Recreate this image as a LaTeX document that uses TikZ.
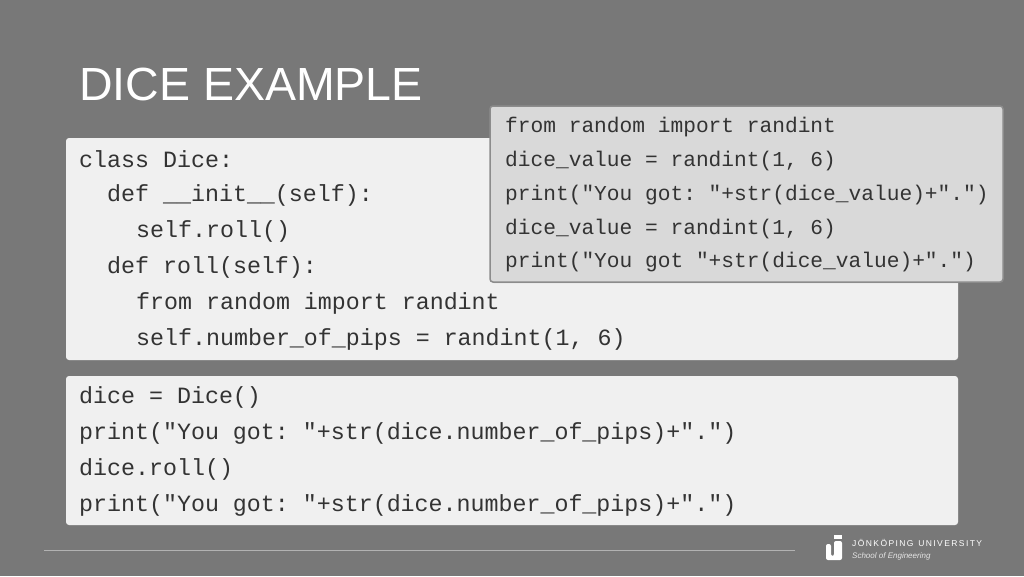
\documentclass[tikz,border=0pt]{standalone}
\usepackage{fontspec}
\setmainfont{Liberation Sans}
\setmonofont{Liberation Mono}
\usetikzlibrary{shadows}
\begin{document}
\begin{tikzpicture}[x=1pt,y=-1pt,
  codebox/.style={fill=black!6,rounded corners=3pt,drop shadow={shadow xshift=1pt,shadow yshift=-1pt,opacity=0.4}},
  code/.style={anchor=west,inner sep=0pt,font=\ttfamily\fontsize{23.3}{23.3}\selectfont,text=black!80},
  codes/.style={anchor=west,inner sep=0pt,font=\ttfamily\fontsize{21.2}{21.2}\selectfont,text=black!80}]
\fill[black!53] (0,0) rectangle (1024,576);
\useasboundingbox (0,0) rectangle (1024,576);
\node[anchor=base west,inner sep=0pt,text=white,font=\fontsize{46.5}{46.5}\selectfont] (title) at (79,100) {DICE EXAMPLE};
\path[codebox] (66,138) rectangle (958,360);
\path[codebox] (66,376) rectangle (958,525);
\path[fill=black!15,draw=black!45,line width=1.5pt,rounded corners=3pt,drop shadow={shadow xshift=1pt,shadow yshift=-1pt,opacity=0.4}] (490,106) rectangle (1003,282);
\node[code] (l1) at (79,159) {class Dice:};
\node[code] (l2) at (107,195) {def \_\_init\_\_(self):};
\node[code] (l3) at (136,231) {self.roll()};
\node[code] (l4) at (107,267) {def roll(self):};
\node[code] (l5) at (136,303) {from random import randint};
\node[code] (l6) at (136,339) {self.number\_of\_pips = randint(1, 6)};
\node[code] (b1) at (79,397) {dice = Dice()};
\node[code] (b2) at (79,433) {print("You got: "+str(dice.number\_of\_pips)+".")};
\node[code] (b3) at (79,469) {dice.roll()};
\node[code] (b4) at (79,505) {print("You got: "+str(dice.number\_of\_pips)+".")};
\node[codes] (s1) at (505,127) {from random import randint};
\node[codes] (s2) at (505,161) {dice\_value = randint(1, 6)};
\node[codes] (s3) at (505,195) {print("You got: "+str(dice\_value)+".")};
\node[codes] (s4) at (505,229) {dice\_value = randint(1, 6)};
\node[codes] (s5) at (505,262) {print("You got "+str(dice\_value)+".")};
\draw[black!30,line width=0.8pt] (44,550) -- (795,550);
\fill[white] (834,535) rectangle (842,539);
\fill[white,rounded corners=2pt] (834,541) -- (842,541) -- (842,560) -- (826,560) -- (826,544) -- (831,544) -- (831,556) -- (834,556) -- cycle;
\node[anchor=west,inner sep=0pt,text=white,font=\fontsize{8.5}{8.5}\selectfont] (uni) at (852,543) {J\,Ö\,N\,K\,Ö\,P\,I\,N\,G\ \ U\,N\,I\,V\,E\,R\,S\,I\,T\,Y};
\node[anchor=west,inner sep=0pt,text=white!90!black,font=\itshape\fontsize{8}{8}\selectfont] (sch) at (852,556) {School of Engineering};
\end{tikzpicture}
\end{document}
